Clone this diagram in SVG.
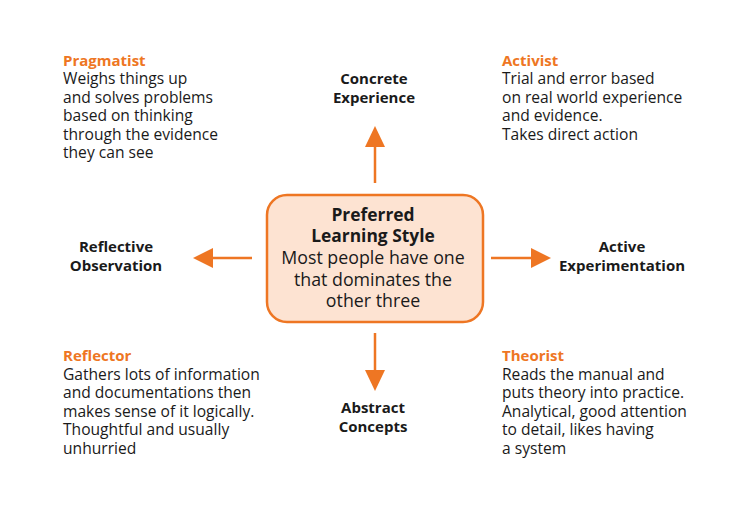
<svg xmlns="http://www.w3.org/2000/svg" width="750" height="520" viewBox="0 0 750 520">
<style>
text{font-family:"Open Sans","Noto Sans",sans-serif;fill:#1a1a1a}
.t{font-size:15.6px}
.h{font-size:15px;font-weight:bold;fill:#ee7623}
.l{font-size:15px;font-weight:bold;text-anchor:middle}
.c{font-size:17.8px;text-anchor:middle}
.cb{font-size:17.4px;font-weight:bold;text-anchor:middle}
.ar{stroke:#ee7623;stroke-width:2.5;fill:none}
.hd{fill:#ee7623}
</style>
<rect width="750" height="520" fill="#fff"/>
<g id="connectors">
<line class="ar" x1="375" y1="183" x2="375" y2="145"/>
<polygon class="hd" points="375,126 365,147 385,147"/>
<line class="ar" x1="375" y1="333" x2="375" y2="372"/>
<polygon class="hd" points="375,391 365,370 385,370"/>
<line class="ar" x1="252" y1="258" x2="212" y2="258"/>
<polygon class="hd" points="193,258 213,248 213,268"/>
<line class="ar" x1="491" y1="258" x2="532" y2="258"/>
<polygon class="hd" points="551,258 531,248 531,268"/>
</g>
<g id="center">
<rect x="267" y="195" width="216" height="127" rx="20" fill="#fde3d2" stroke="#ee7623" stroke-width="2.5"/>
<text class="cb" x="373" y="221">Preferred</text>
<text class="cb" x="373" y="242">Learning Style</text>
<text class="c" x="373" y="264">Most people have one</text>
<text class="c" x="373" y="286">that dominates the</text>
<text class="c" x="373" y="307">other three</text>
</g>
<g id="concrete"><text class="l" x="374" y="84">Concrete</text><text class="l" x="374" y="103">Experience</text></g>
<g id="abstract"><text class="l" x="373" y="413">Abstract</text><text class="l" x="373" y="432">Concepts</text></g>
<g id="reflective"><text class="l" x="116" y="252">Reflective</text><text class="l" x="116" y="271">Observation</text></g>
<g id="active"><text class="l" x="622" y="252">Active</text><text class="l" x="622" y="271">Experimentation</text></g>
<g id="pragmatist">
<text class="h" x="63" y="66">Pragmatist</text>
<text class="t" x="63" y="84">Weighs things up</text>
<text class="t" x="63" y="103">and solves problems</text>
<text class="t" x="63" y="121">based on thinking</text>
<text class="t" x="63" y="140">through the evidence</text>
<text class="t" x="63" y="158">they can see</text>
</g>
<g id="activist">
<text class="h" x="502" y="66">Activist</text>
<text class="t" x="502" y="84">Trial and error based</text>
<text class="t" x="502" y="103">on real world experience</text>
<text class="t" x="502" y="121">and evidence.</text>
<text class="t" x="502" y="140">Takes direct action</text>
</g>
<g id="reflector">
<text class="h" x="63" y="361">Reflector</text>
<text class="t" x="63" y="380">Gathers lots of information</text>
<text class="t" x="63" y="398">and documentations then</text>
<text class="t" x="63" y="417">makes sense of it logically.</text>
<text class="t" x="63" y="435">Thoughtful and usually</text>
<text class="t" x="63" y="454">unhurried</text>
</g>
<g id="theorist">
<text class="h" x="502" y="361">Theorist</text>
<text class="t" x="502" y="380">Reads the manual and</text>
<text class="t" x="502" y="398">puts theory into practice.</text>
<text class="t" x="502" y="417">Analytical, good attention</text>
<text class="t" x="502" y="435">to detail, likes having</text>
<text class="t" x="502" y="454">a system</text>
</g>
</svg>
